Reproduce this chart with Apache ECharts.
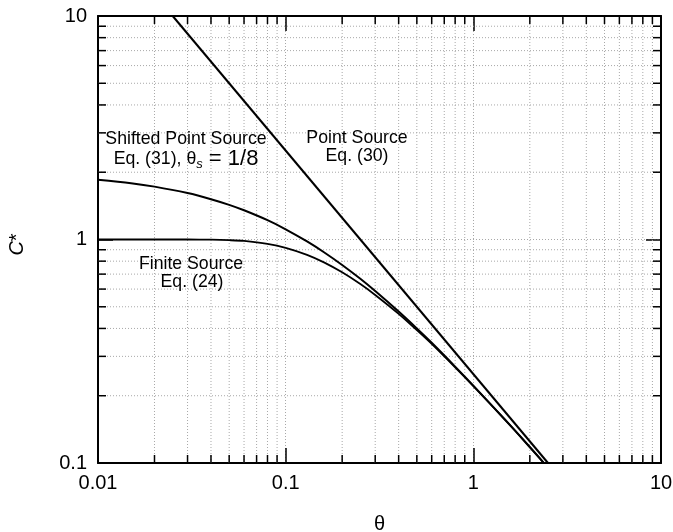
<!DOCTYPE html>
<html><head><meta charset="utf-8">
<script src="https://cdn.jsdelivr.net/npm/echarts@6/dist/echarts.min.js"></script>
<style>html,body{margin:0;padding:0;background:#fff}#c{width:673px;height:532px}</style>
</head><body><div id="c"></div>
<script>
const theta = [0.01,0.015,0.02,0.03,0.04,0.05,0.06,0.08,0.1,0.13,0.16,0.2,0.25,0.3,0.4,0.5,0.6,0.8,1.0,1.3,1.6,2.0,2.5];
const finiteSource = [1.000,1.000,1.000,1.000,0.998,0.993,0.985,0.956,0.918,0.854,0.790,0.713,0.632,0.565,0.465,0.393,0.341,0.268,0.221,0.175,0.145,0.1175,0.0952];
const shiftedSource = [1.852,1.786,1.724,1.613,1.515,1.429,1.351,1.220,1.111,0.980,0.877,0.769,0.667,0.588,0.476,0.400,0.345,0.270,0.222,0.175,0.145,0.118,0.0952];
const pointTheta = [0.025, 2.5];
const pointSource = [10, 0.1];
const xMinorTicks = [0.02,0.03,0.04,0.05,0.06,0.07,0.08,0.09,0.2,0.3,0.4,0.5,0.6,0.7,0.8,0.9,2,3,4,5,6,7,8,9];
const yMinorTicks = [0.2,0.3,0.4,0.5,0.6,0.7,0.8,0.9,2,3,4,5,6,7,8,9];
const X_MIN = 0.01, X_MAX = 10, Y_MIN = 0.1, Y_MAX = 10;

const FONT = "'Liberation Sans', Arial, Helvetica, sans-serif";
const GRID_COLOR = '#a8a8a8';
const chart = echarts.init(document.getElementById('c'), null, {renderer: 'canvas'});

function zip(a, b) { return a.map((v, i) => [v, b[i]]); }

const tickStyle = {stroke: '#000', lineWidth: 1.5};
const gridStyle = {stroke: GRID_COLOR, lineWidth: 1, lineDash: [1, 2]};

function renderXMinor(params, api) {
  const v = api.value(0);
  const b = api.coord([v, Y_MIN]);
  const t = api.coord([v, Y_MAX]);
  return {type: 'group', children: [
    {type: 'line', shape: {x1: b[0], y1: b[1], x2: t[0], y2: t[1]}, style: gridStyle},
    {type: 'line', shape: {x1: b[0], y1: b[1], x2: b[0], y2: b[1] - 8}, style: tickStyle},
    {type: 'line', shape: {x1: t[0], y1: t[1], x2: t[0], y2: t[1] + 8}, style: tickStyle}
  ]};
}
function renderYMinor(params, api) {
  const v = api.value(1);
  const l = api.coord([X_MIN, v]);
  const r = api.coord([X_MAX, v]);
  return {type: 'group', children: [
    {type: 'line', shape: {x1: l[0], y1: l[1], x2: r[0], y2: r[1]}, style: gridStyle},
    {type: 'line', shape: {x1: l[0], y1: l[1], x2: l[0] + 8, y2: l[1]}, style: tickStyle},
    {type: 'line', shape: {x1: r[0], y1: r[1], x2: r[0] - 8, y2: r[1]}, style: tickStyle}
  ]};
}

const axisLineStyle = {lineStyle: {color: '#000', width: 2}};
const majorTick = {show: true, inside: true, length: 15, lineStyle: {color: '#000', width: 1.5}};
const splitLine = {show: true, lineStyle: {color: GRID_COLOR, width: 1, type: [1, 2]}};
const labelStyle = {color: '#000', fontSize: 20, fontFamily: FONT};

const option = {
  backgroundColor: '#fff',
  animation: false,
  grid: {left: 98, right: 12, top: 16, bottom: 69, outerBoundsMode: 'none', containLabel: false},
  xAxis: [
    {type: 'log', logBase: 10, min: X_MIN, max: X_MAX, position: 'bottom',
     axisLine: axisLineStyle, axisTick: majorTick, splitLine: splitLine,
     axisLabel: Object.assign({margin: 10}, labelStyle),
     name: 'θ', nameLocation: 'middle', nameGap: 51,
     nameTextStyle: {color: '#000', fontSize: 20, fontFamily: FONT}},
    {type: 'log', logBase: 10, min: X_MIN, max: X_MAX, position: 'top',
     axisLine: axisLineStyle, axisTick: majorTick, splitLine: {show: false},
     axisLabel: {show: false}}
  ],
  yAxis: [
    {type: 'log', logBase: 10, min: Y_MIN, max: Y_MAX, position: 'left',
     axisLine: axisLineStyle, axisTick: majorTick, splitLine: splitLine,
     axisLabel: Object.assign({margin: 11}, labelStyle),
     name: '{i|C}*', nameLocation: 'middle', nameGap: 71, nameRotate: 90,
     nameTextStyle: {color: '#000', fontSize: 20, fontFamily: FONT, padding: [0, 10, 0, 0],
       rich: {i: {fontStyle: 'italic', fontSize: 20, fontFamily: FONT, color: '#000'}}}},
    {type: 'log', logBase: 10, min: Y_MIN, max: Y_MAX, position: 'right',
     axisLine: axisLineStyle, axisTick: majorTick, splitLine: {show: false},
     axisLabel: {show: false}}
  ],
  series: [
    {type: 'custom', xAxisIndex: 0, yAxisIndex: 0, z: 1, silent: true,
     data: xMinorTicks.map(v => [v, 1]), renderItem: renderXMinor},
    {type: 'custom', xAxisIndex: 0, yAxisIndex: 0, z: 1, silent: true,
     data: yMinorTicks.map(v => [1, v]), renderItem: renderYMinor},
    {name: 'Point Source', type: 'line', xAxisIndex: 0, yAxisIndex: 0, z: 5,
     data: zip(pointTheta, pointSource), symbol: 'none', clip: true,
     lineStyle: {color: '#000', width: 2}},
    {name: 'Shifted Point Source', type: 'line', xAxisIndex: 0, yAxisIndex: 0, z: 5,
     data: zip(theta, shiftedSource), symbol: 'none', smooth: 0.3, clip: true,
     lineStyle: {color: '#000', width: 2}},
    {name: 'Finite Source', type: 'line', xAxisIndex: 0, yAxisIndex: 0, z: 5,
     data: zip(theta, finiteSource), symbol: 'none', smooth: 0.3, clip: true,
     lineStyle: {color: '#000', width: 1.8}}
  ],
  graphic: [
    {type: 'text', x: 186, y: 139, z: 10,
     style: {text: 'Shifted Point Source', align: 'center', verticalAlign: 'middle',
       font: "17.7px " + FONT, fill: '#000'}},
    {type: 'text', x: 186, y: 159, z: 10,
     style: {text: '{a|Eq. (31), θ}{s|s}{b| = 1/8}', align: 'center', verticalAlign: 'middle',
       rich: {
         a: {fontSize: 17.7, fontFamily: FONT, fill: '#000', color: '#000'},
         s: {fontSize: 13, fontFamily: FONT, fontStyle: 'italic', fill: '#000', color: '#000', padding: [10, 0, 0, 0]},
         b: {fontSize: 22, fontFamily: FONT, fill: '#000', color: '#000'}
       }}},
    {type: 'text', x: 357, y: 138, z: 10,
     style: {text: 'Point Source', align: 'center', verticalAlign: 'middle', font: "17.7px " + FONT, fill: '#000'}},
    {type: 'text', x: 357, y: 156, z: 10,
     style: {text: 'Eq. (30)', align: 'center', verticalAlign: 'middle', font: "17.7px " + FONT, fill: '#000'}},
    {type: 'text', x: 191, y: 264, z: 10,
     style: {text: 'Finite Source', align: 'center', verticalAlign: 'middle', font: "17.7px " + FONT, fill: '#000'}},
    {type: 'text', x: 192, y: 282, z: 10,
     style: {text: 'Eq. (24)', align: 'center', verticalAlign: 'middle', font: "17.7px " + FONT, fill: '#000'}}
  ]
};
chart.setOption(option);
</script>
</body></html>
